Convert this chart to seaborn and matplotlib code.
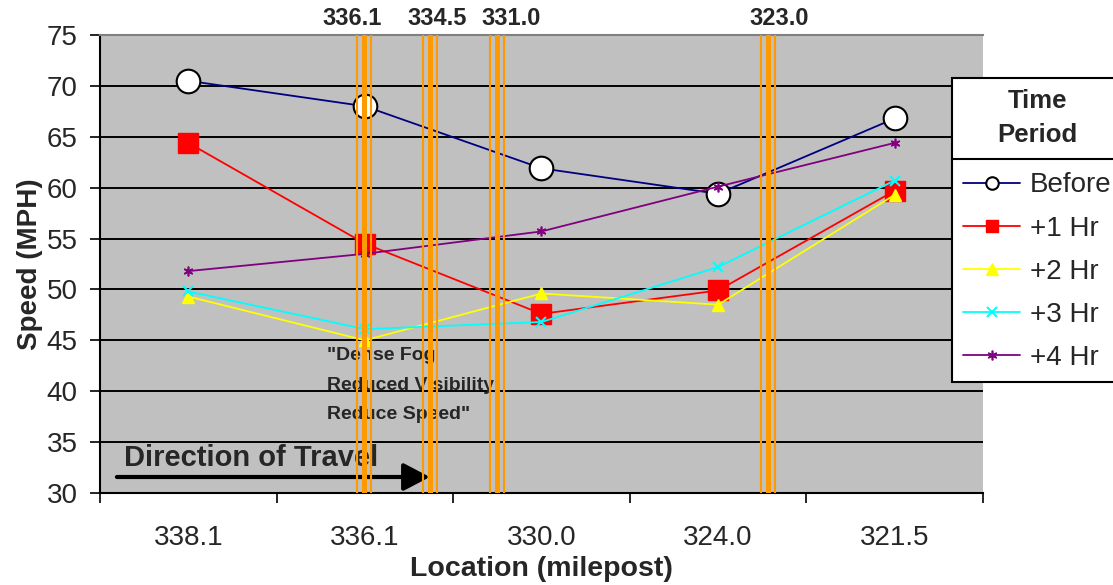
import numpy as np
import pandas as pd
import matplotlib
matplotlib.use("Agg")
import matplotlib.pyplot as plt
from matplotlib.lines import Line2D
import seaborn as sns

# Speed by milepost for each time period
locations = ["338.1", "336.1", "330.0", "324.0", "321.5"]
periods = ["Before", "+1 Hr", "+2 Hr", "+3 Hr", "+4 Hr"]
speed_before = [70.5, 68.0, 61.9, 59.4, 66.8]
speed_1hr = [64.4, 54.5, 47.6, 49.9, 59.7]
speed_2hr = [49.3, 45.0, 49.6, 48.5, 59.3]
speed_3hr = [49.8, 46.1, 46.8, 52.2, 60.7]
speed_4hr = [51.8, 53.5, 55.7, 60.1, 64.4]

# Fog warning sign mileposts, placed along the category axis
sign_posts = ["336.1", "334.5", "331.0", "323.0"]
sign_x = [0.995, 1.366, 1.751, 3.280]
sign_label_x = [0.927, 1.408, 1.827, 3.348]

y_ticks = list(range(30, 80, 5))

series = [speed_before, speed_1hr, speed_2hr, speed_3hr, speed_4hr]
df = pd.DataFrame({
    "pos": np.tile(np.arange(len(locations)), len(periods)),
    "speed": np.concatenate(series),
    "period": np.repeat(periods, len(locations)),
})

styles = {
    "Before": dict(color="#000080", marker="o", ms=17, mfc="white", mec="black", mew=1.5, lms=9),
    "+1 Hr": dict(color="#FF0000", marker="s", ms=15, mfc="#FF0000", mec="#FF0000", mew=1, lms=9),
    "+2 Hr": dict(color="#FFFF00", marker="^", ms=9, mfc="#FFFF00", mec="#FFFF00", mew=1, lms=9),
    "+3 Hr": dict(color="#00FFFF", marker="x", ms=7, mfc="#00FFFF", mec="#00FFFF", mew=1.5, lms=7),
    "+4 Hr": dict(color="#800080", marker=(6, 2, 0), ms=7, mfc="#800080", mec="#800080", mew=1.2, lms=7),
}

sns.set_theme(style="white")
plt.rcParams["font.family"] = ["Liberation Sans", "DejaVu Sans"]

fig = plt.figure(figsize=(11.13, 5.85), dpi=100)
ax = fig.add_axes([0.0898, 0.1573, 0.7934, 0.7829])
ax.set_facecolor("#C0C0C0")

for v in y_ticks[1:-1]:
    ax.axhline(v, color="black", lw=1.4, zorder=1)

for p in periods:
    st = styles[p]
    sub = df[df["period"] == p]
    sns.lineplot(data=sub, x="pos", y="speed", ax=ax, color=st["color"], lw=1.3,
                 marker=st["marker"], markersize=st["ms"], markerfacecolor=st["mfc"],
                 markeredgecolor=st["mec"], markeredgewidth=st["mew"],
                 errorbar=None, legend=False, zorder=3)

# Triple orange bars for each sign location
off = 7 / 176.6
for x in sign_x:
    ax.axvline(x - off, color="#FF9900", lw=1.5, zorder=6)
    ax.axvline(x, color="#FF9900", lw=3.6, zorder=6)
    ax.axvline(x + off, color="#FF9900", lw=1.5, zorder=6)

trans = matplotlib.transforms.blended_transform_factory(ax.transData, ax.transAxes)
for lx, lab in zip(sign_label_x, sign_posts):
    ax.text(lx, 1.022, lab, transform=trans, ha="center", va="baseline",
            fontsize=17, fontweight="bold", clip_on=False)

ax.text(0.785, 40.6, '"Dense Fog\nReduced Visibility\nReduce Speed"', ha="left", va="center",
        fontsize=14, fontweight="bold", linespacing=1.95, zorder=4)
ax.text(-0.364, 33.45, "Direction of Travel", ha="left", va="center",
        fontsize=21, fontweight="bold", zorder=4)
ax.annotate("", xy=(1.368, 31.57), xytext=(-0.404, 31.57),
            arrowprops=dict(arrowstyle="-|>,head_length=0.8,head_width=0.42",
                            lw=3, color="black", mutation_scale=20, shrinkA=0, shrinkB=0),
            zorder=4)

ax.set_xlim(-0.5, len(locations) - 0.5)
ax.set_ylim(30, 75)
ax.set_yticks(y_ticks)
ax.set_yticklabels([str(v) for v in y_ticks], fontsize=20)
ax.set_xticks(np.arange(-0.5, len(locations), 1))
ax.set_xticklabels([])
ax.set_xticks(np.arange(len(locations)), minor=True)
ax.set_xticklabels(locations, minor=True, fontsize=20)
ax.tick_params(axis="x", which="major", direction="out", length=7, width=1.2, color="black", bottom=True)
ax.tick_params(axis="x", which="minor", length=0, pad=23)
ax.tick_params(axis="y", direction="out", length=7, width=1.2, color="black", left=True, pad=9)

for s in ["left", "bottom"]:
    ax.spines[s].set_color("black")
    ax.spines[s].set_linewidth(1.5)
ax.spines["top"].set_color("#808080")
ax.spines["top"].set_linewidth(1.5)
ax.spines["right"].set_visible(False)

ax.set_xlabel("Location (milepost)", fontsize=20.5, fontweight="bold", labelpad=4)
ax.set_ylabel("Speed (MPH)", fontsize=20, fontweight="bold", labelpad=3)

handles = [Line2D([], [], color=styles[p]["color"], lw=1.3, marker=styles[p]["marker"],
                  markersize=styles[p]["lms"], markerfacecolor=styles[p]["mfc"],
                  markeredgecolor=styles[p]["mec"], markeredgewidth=styles[p]["mew"])
           for p in periods]
leg = ax.legend(handles, periods, title="Time\nPeriod", loc="upper left",
                bbox_to_anchor=(952 / 1113, 1 - 78 / 585), bbox_transform=fig.transFigure,
                frameon=True, fancybox=False, framealpha=1, edgecolor="black",
                fontsize=20, title_fontproperties={"weight": "bold", "size": 18.5},
                handlelength=2.05, handletextpad=0.36, labelspacing=0.62,
                borderpad=0.4, borderaxespad=0)
leg.get_frame().set_linewidth(1.5)
leg.set_zorder(10)
leg.get_title().set_linespacing(1.5)
leg.get_title().set_multialignment("center")
# extra room between the title block and the entries
leg._legend_box.sep = 18.5

# Rule between legend title and entries
fig.canvas.draw()
r = fig.canvas.get_renderer()
lb = leg.get_window_extent(r)
tb = leg.get_title().get_window_extent(r)
first = leg.get_texts()[0].get_window_extent(r)
ymid = (tb.y0 + first.y1) / 2
fig.add_artist(Line2D([lb.x0 / fig.bbox.width, lb.x1 / fig.bbox.width],
                      [ymid / fig.bbox.height] * 2, color="black", lw=1.5,
                      transform=fig.transFigure, zorder=11))

fig.savefig("out.png", dpi=100, facecolor="white")
